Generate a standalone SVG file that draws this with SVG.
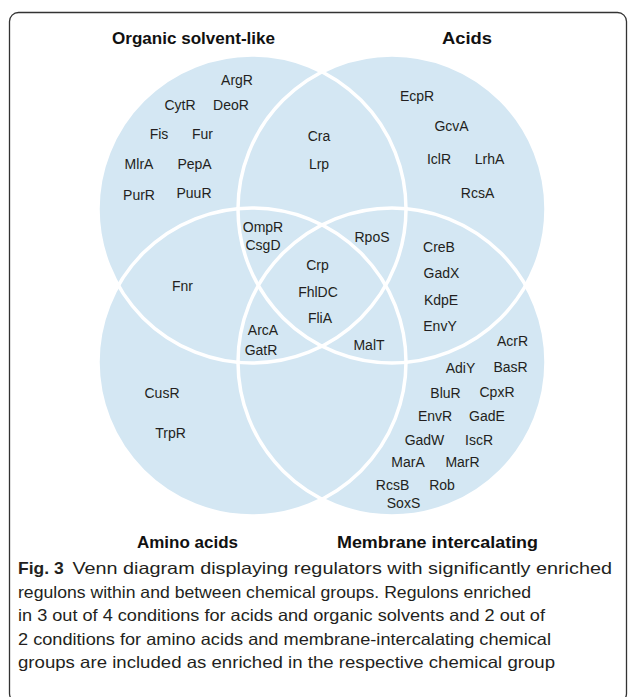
<svg xmlns="http://www.w3.org/2000/svg" width="629" height="697" viewBox="0 0 629 697">
<style>
.fill{fill:#d4e7f3;stroke:none}
.edge{fill:none;stroke:#ffffff;stroke-width:3.5}
.lbl{font-family:"Liberation Sans",Arial,sans-serif;font-size:14px;fill:#231f20;text-anchor:middle}
.ttl{font-family:"Liberation Sans",Arial,sans-serif;font-size:16px;font-weight:bold;fill:#111111}
.cap{font-family:"Liberation Sans",Arial,sans-serif;font-size:16.5px;fill:#231f20}
.capb{font-family:"Liberation Sans",Arial,sans-serif;font-size:16.5px;font-weight:bold;fill:#231f20}
</style>
<rect x="9.5" y="12.5" width="617" height="690" rx="9" ry="9" fill="#ffffff" stroke="#333333" stroke-width="1.3"/>
<g id="circles">
<circle class="fill" cx="252" cy="209" r="154"/>
<circle class="fill" cx="392" cy="209" r="154"/>
<circle class="fill" cx="252" cy="362" r="154"/>
<circle class="fill" cx="392" cy="362" r="154"/>
<circle class="edge" cx="252" cy="209" r="154"/>
<circle class="edge" cx="392" cy="209" r="154"/>
<circle class="edge" cx="252" cy="362" r="154"/>
<circle class="edge" cx="392" cy="362" r="154"/>
</g>
<g id="connectors"></g>
<g id="titles">
<text class="ttl" x="112" y="44" textLength="163" lengthAdjust="spacingAndGlyphs">Organic solvent-like</text>
<text class="ttl" x="442" y="44" textLength="50" lengthAdjust="spacingAndGlyphs">Acids</text>
<text class="ttl" x="137" y="548" textLength="101" lengthAdjust="spacingAndGlyphs">Amino acids</text>
<text class="ttl" x="337" y="548" textLength="201" lengthAdjust="spacingAndGlyphs">Membrane intercalating</text>
</g>
<g id="organic-only">
<text class="lbl" x="237" y="85">ArgR</text>
<text class="lbl" x="180" y="110">CytR</text>
<text class="lbl" x="231" y="110">DeoR</text>
<text class="lbl" x="159" y="139">Fis</text>
<text class="lbl" x="202.5" y="139">Fur</text>
<text class="lbl" x="139" y="169">MlrA</text>
<text class="lbl" x="194.5" y="169">PepA</text>
<text class="lbl" x="139" y="200">PurR</text>
<text class="lbl" x="194" y="198">PuuR</text>
</g>
<g id="organic-acids">
<text class="lbl" x="319" y="141">Cra</text>
<text class="lbl" x="319" y="169">Lrp</text>
</g>
<g id="acids-only">
<text class="lbl" x="417" y="101">EcpR</text>
<text class="lbl" x="451.5" y="131">GcvA</text>
<text class="lbl" x="439" y="164">IclR</text>
<text class="lbl" x="489.5" y="164">LrhA</text>
<text class="lbl" x="477.5" y="198">RcsA</text>
</g>
<g id="organic-acids-amino">
<text class="lbl" x="263" y="232">OmpR</text>
<text class="lbl" x="263" y="250">CsgD</text>
</g>
<g id="organic-acids-membrane">
<text class="lbl" x="372" y="242">RpoS</text>
</g>
<g id="acids-membrane">
<text class="lbl" x="439" y="252">CreB</text>
<text class="lbl" x="441.5" y="278">GadX</text>
<text class="lbl" x="441" y="305">KdpE</text>
<text class="lbl" x="440" y="331">EnvY</text>
</g>
<g id="organic-amino">
<text class="lbl" x="182.5" y="291">Fnr</text>
</g>
<g id="all-four">
<text class="lbl" x="317.5" y="270">Crp</text>
<text class="lbl" x="318" y="297">FhlDC</text>
<text class="lbl" x="320" y="323">FliA</text>
</g>
<g id="organic-amino-membrane">
<text class="lbl" x="263" y="335">ArcA</text>
<text class="lbl" x="261" y="355">GatR</text>
</g>
<g id="acids-amino-membrane">
<text class="lbl" x="369" y="350">MalT</text>
</g>
<g id="amino-only">
<text class="lbl" x="162" y="398">CusR</text>
<text class="lbl" x="170.5" y="438">TrpR</text>
</g>
<g id="membrane-only">
<text class="lbl" x="512.5" y="346">AcrR</text>
<text class="lbl" x="460.5" y="373">AdiY</text>
<text class="lbl" x="510.5" y="372">BasR</text>
<text class="lbl" x="445.5" y="398">BluR</text>
<text class="lbl" x="497" y="397">CpxR</text>
<text class="lbl" x="435" y="421">EnvR</text>
<text class="lbl" x="487" y="421">GadE</text>
<text class="lbl" x="424.5" y="445">GadW</text>
<text class="lbl" x="479" y="445">IscR</text>
<text class="lbl" x="408" y="467">MarA</text>
<text class="lbl" x="462.5" y="467">MarR</text>
<text class="lbl" x="392.5" y="490">RcsB</text>
<text class="lbl" x="442" y="490">Rob</text>
<text class="lbl" x="403.5" y="508">SoxS</text>
</g>
<g id="caption">
<text class="capb" x="18" y="574" textLength="45.6" lengthAdjust="spacingAndGlyphs">Fig. 3</text>
<text class="cap" x="72.4" y="574" textLength="539.6" lengthAdjust="spacingAndGlyphs">Venn diagram displaying regulators with significantly enriched</text>
<text class="cap" x="18" y="597.5" textLength="513" lengthAdjust="spacingAndGlyphs">regulons within and between chemical groups. Regulons enriched</text>
<text class="cap" x="18" y="621" textLength="527" lengthAdjust="spacingAndGlyphs">in 3 out of 4 conditions for acids and organic solvents and 2 out of</text>
<text class="cap" x="18" y="644.5" textLength="533" lengthAdjust="spacingAndGlyphs">2 conditions for amino acids and membrane-intercalating chemical</text>
<text class="cap" x="18" y="668" textLength="537" lengthAdjust="spacingAndGlyphs">groups are included as enriched in the respective chemical group</text>
</g>
</svg>
